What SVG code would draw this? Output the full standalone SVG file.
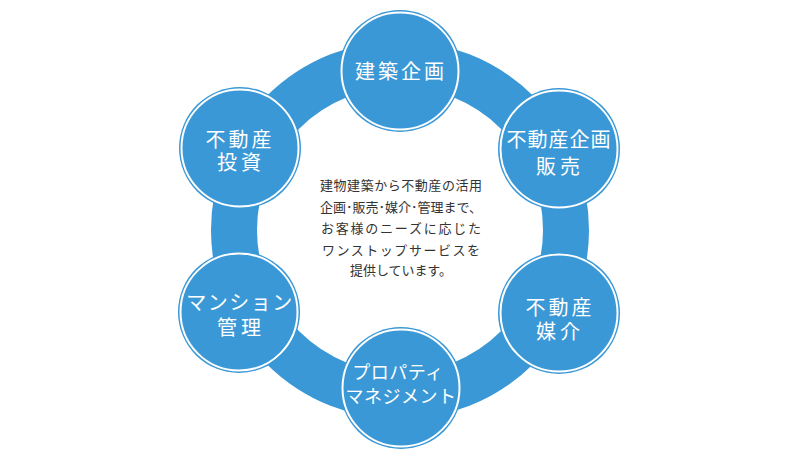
<svg xmlns="http://www.w3.org/2000/svg" width="800" height="461" viewBox="0 0 800 461">
<style>
.ring{fill:none;stroke:#3a98d6;stroke-width:46}
.node{fill:#3a98d6}
.inner{fill:none;stroke:#ffffff;stroke-width:2}
.lbl{fill:#ffffff;font-family:"Noto Sans CJK JP","Noto Sans",sans-serif;font-size:20px;text-anchor:middle;letter-spacing:2px}
.sm{font-size:18px;letter-spacing:0.5px}
.desc{fill:#333333;font-family:"Noto Sans CJK JP","Noto Sans",sans-serif;font-size:13px;text-anchor:middle}
</style>
<rect width="800" height="461" fill="#ffffff"/>
<g id="connectors">
<circle class="ring" cx="400" cy="230" r="166"/>
</g>
<g id="node-kenchiku">
<circle class="node" cx="400" cy="71" r="61"/>
<circle class="inner" cx="400" cy="71" r="58.5"/>
<text class="lbl" x="401" y="79" style="letter-spacing:3px">建築企画</text>
</g>
<g id="node-hanbai">
<circle class="node" cx="559" cy="149" r="61"/>
<circle class="inner" cx="559" cy="149" r="58.5"/>
<text class="lbl" x="559" y="147" style="letter-spacing:1px">不動産企画</text>
<text class="lbl" x="560" y="174" style="letter-spacing:4px">販売</text>
</g>
<g id="node-baikai">
<circle class="node" cx="559" cy="313" r="61"/>
<circle class="inner" cx="559" cy="313" r="58.5"/>
<text class="lbl" x="560" y="315" style="letter-spacing:3px">不動産</text>
<text class="lbl" x="560" y="339" style="letter-spacing:4px">媒介</text>
</g>
<g id="node-property">
<circle class="node" cx="401" cy="388" r="61"/>
<circle class="inner" cx="401" cy="388" r="58.5"/>
<text class="lbl sm" x="398" y="379">プロパティ</text>
<text class="lbl sm" x="401" y="403">マネジメント</text>
</g>
<g id="node-mansion">
<circle class="node" cx="239" cy="312" r="61"/>
<circle class="inner" cx="239" cy="312" r="58.5"/>
<text class="lbl" x="240" y="310" style="letter-spacing:1.5px">マンション</text>
<text class="lbl" x="241" y="335" style="letter-spacing:4px">管理</text>
</g>
<g id="node-toushi">
<circle class="node" cx="240" cy="148" r="61"/>
<circle class="inner" cx="240" cy="148" r="58.5"/>
<text class="lbl" x="240" y="147" style="letter-spacing:3px">不動産</text>
<text class="lbl" x="241" y="170" style="letter-spacing:4px">投資</text>
</g>
<g id="center-text">
<text class="desc" x="401" y="190" textLength="162" lengthAdjust="spacing">建物建築から不動産の活用</text>
<text class="desc" x="401" y="212" textLength="162" lengthAdjust="spacing">企画･販売･媒介･管理まで、</text>
<text class="desc" x="401" y="233" textLength="160" lengthAdjust="spacing">お客様のニーズに応じた</text>
<text class="desc" x="401" y="255" textLength="158" lengthAdjust="spacing">ワンストップサービスを</text>
<text class="desc" x="401" y="275" textLength="102" lengthAdjust="spacing">提供しています。</text>
</g>
</svg>
